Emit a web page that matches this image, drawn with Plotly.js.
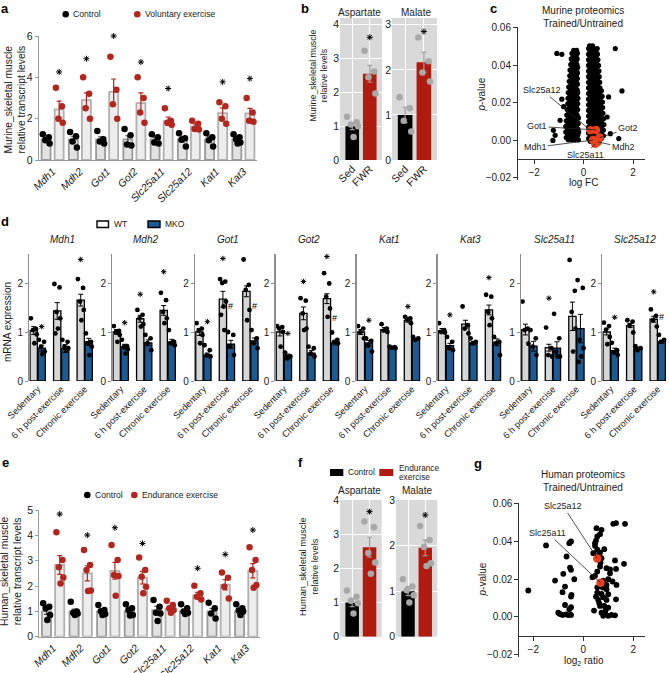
<!DOCTYPE html>
<html><head><meta charset="utf-8">
<script src="https://cdn.plot.ly/plotly-3.0.1.min.js"></script>
<style>html,body{margin:0;padding:0;background:#fff}</style>
</head><body><div id="chart" style="width:669px;height:673px"></div>
<script>
// ================= DATA =================
// Panel a (murine transcripts)
const aGenes = ['Mdh1','Mdh2','Got1','Got2','Slc25a11','Slc25a12','Kat1','Kat3'];
const aCtrlMean = [1.0,1.0,1.0,1.0,1.0,1.0,1.0,1.0];
const aCtrlSem  = [0.08,0.15,0.12,0.17,0.1,0.13,0.13,0.09];
const aCtrlDots = [[1.24,1.1,0.95,0.8],[1.35,1.15,0.9,0.6],[1.4,1.0,0.9,0.8],[1.5,1.2,0.75,0.7],[1.25,1.1,0.85,0.8],[1.3,1.05,0.98,0.65],[1.3,1.1,0.95,0.65],[1.25,1.1,1.0,0.85,0.8]];
const aExMean = [2.45,2.9,3.3,2.75,1.88,1.62,2.27,2.25];
const aExSem  = [0.4,0.35,0.62,0.5,0.2,0.12,0.25,0.25];
const aExDots = [[3.5,2.6,2.0,1.8],[4.0,3.2,2.5,2.0],[5.0,3.4,2.7,2.0],[4.0,3.0,2.3,1.8],[2.5,1.9,1.8,1.7],[1.9,1.75,1.5,1.48],[2.8,2.6,2.0,1.75],[3.0,2.3,1.9,1.85]];
const aStars = [4.26,4.9,6.0,4.74,3.46,null,3.78,3.94];

// Panel b (murine metabolites)
const bCats = ['Sed','FWR'];
const bAspMean = [1.0,2.55], bAspSem = [0.1,0.25];
const bAspDots = [[1.28,1.12,1.05,1.0,0.68],[3.23,2.62,2.45,1.97]];
const bAspStar = 3.63;
const bMalMean = [1.0,2.17], bMalSem = [0.17,0.22];
const bMalDots = [[1.39,1.15,0.87,0.63],[2.72,2.19,1.94,1.74]];
const bMalStar = 2.85;

// Panel c (murine proteomics volcano): rows of points (p-value level, log FC values)
const cLRowsY = [0.048,0.0465,0.045,0.0435,0.042,0.0405,0.039,0.0375,0.036,0.0345,0.033,0.0315,0.030,0.0285,0.027,0.0255,0.024,0.0225,0.021,0.0195,0.018,0.0165,0.015,0.0135,0.012,0.0105,0.009,0.0075,0.006,0.0045,0.003,0.0015,0.0003];
const cLRowsX = [[-0.4,-0.28],[-0.47,-0.35,-0.25],[-0.42,-0.3],[-0.5,-0.38,-0.26],[-0.44,-0.31],[-0.52,-0.4,-0.27],[-0.46,-0.33,-0.24],[-0.55,-0.42,-0.28],[-0.48,-0.35,-0.25],[-0.56,-0.43,-0.29],[-0.5,-0.37,-0.25],[-0.58,-0.45,-0.3],[-0.51,-0.38,-0.25],[-0.6,-0.46,-0.32],[-0.53,-0.4,-0.26],[-0.62,-0.48,-0.34,-0.24],[-0.55,-0.41,-0.28],[-0.63,-0.49,-0.35,-0.23],[-0.56,-0.42,-0.28],[-0.64,-0.5,-0.36,-0.24],[-0.57,-0.43,-0.29],[-0.66,-0.52,-0.38,-0.24],[-0.59,-0.45,-0.31],[-0.68,-0.54,-0.4,-0.26],[-0.61,-0.47,-0.33,-0.21],[-0.7,-0.56,-0.42,-0.28],[-0.63,-0.49,-0.35,-0.22],[-0.72,-0.58,-0.44,-0.3],[-0.65,-0.51,-0.37,-0.23],[-0.72,-0.58,-0.44,-0.3,-0.2],[-0.65,-0.51,-0.37,-0.23],[-0.7,-0.56,-0.42,-0.28],[-0.62,-0.48,-0.34,-0.21]];
const cRRowsY = [0.0505,0.049,0.0475,0.046,0.0445,0.043,0.0415,0.040,0.0385,0.037,0.0355,0.034,0.0325,0.031,0.0295,0.028,0.0265,0.025,0.0235,0.022,0.0205,0.019,0.0175,0.016,0.0145,0.013,0.0115,0.010,0.0085,0.007,0.0055,0.004,0.0025,0.001,-0.0005];
const cRRowsX = [[0.24,0.36],[0.2,0.31,0.43,0.55],[0.26,0.38,0.5],[0.2,0.32,0.44,0.56],[0.26,0.38,0.5],[0.2,0.32,0.45,0.58],[0.26,0.39,0.52],[0.2,0.33,0.46,0.6],[0.26,0.4,0.53],[0.2,0.33,0.47,0.62],[0.26,0.4,0.54],[0.2,0.34,0.48,0.63],[0.26,0.41,0.56],[0.2,0.34,0.49,0.65],[0.27,0.42,0.57],[0.2,0.35,0.5,0.66],[0.27,0.42,0.58,0.72],[0.2,0.35,0.5,0.65],[0.27,0.43,0.59,0.75],[0.2,0.35,0.51,0.67],[0.27,0.43,0.6,0.76],[0.2,0.36,0.52,0.68],[0.27,0.44,0.6,0.77],[0.2,0.36,0.52,0.69],[0.27,0.44,0.61,0.78],[0.2,0.36,0.53,0.7],[0.27,0.44,0.61,0.8],[0.2,0.37,0.54,0.71],[0.27,0.45,0.62,0.82],[0.2,0.37,0.55,0.72],[0.27,0.45,0.62,0.8],[0.2,0.37,0.55,0.72],[0.27,0.45,0.62,0.8],[0.2,0.37,0.55,0.72],[0.27,0.45,0.62]];
const cOutX = [-1.08,-0.88,1.28,1.55,1.01,0.95,-0.88,-0.95,-1.22,-1.15,-1.24,1.42,1.08,-0.81];
const cOutY = [0.0464,0.0459,0.049,0.0264,0.0232,0.0125,0.022,0.0107,0.0054,0.0027,0.0,0.001,0.0036,0.018];
const cRedNames = ['Slc25a12','Got1','Got2','Mdh1','Mdh2','Slc25a11'];
const cRedX = [0.28,0.5,0.65,0.38,0.57,0.47];
const cRedY = [0.0054,0.0056,0.0015,0.0002,-0.0008,-0.0018];

// Panel d (WT vs MKO)
const dGenes = ['Mdh1','Mdh2','Got1','Got2','Kat1','Kat3','Slc25a11','Slc25a12'];
const dConds = ['Sedentary','6 h post-exercise','Chronic exercise'];
const dWTMean = [[1.03,1.43,1.65],[1.0,1.27,1.44],[1.0,1.67,1.83],[1.0,1.38,1.68],[1.0,1.05,1.23],[1.03,1.16,1.45],[1.05,0.68,1.32],[1.0,1.13,1.26]];
const dWTSem  = [[0.08,0.17,0.12],[0.05,0.07,0.1],[0.07,0.16,0.11],[0.08,0.13,0.1],[0.05,0.04,0.03],[0.04,0.08,0.1],[0.11,0.07,0.29],[0.06,0.04,0.06]];
const dKOMean = [[0.67,0.66,0.8],[0.7,0.78,0.8],[0.53,0.75,0.82],[0.52,0.57,0.78],[0.78,0.68,0.85],[0.72,0.77,0.79],[0.71,0.67,1.07],[0.62,0.67,0.8]];
const dKOSem  = [[0.06,0.08,0.07],[0.05,0.06,0.05],[0.04,0.08,0.06],[0.03,0.05,0.04],[0.05,0.01,0.02],[0.05,0.03,0.07],[0.1,0.13,0.29],[0.05,0.02,0.03]];
const dWTDots = [
 [[1.28,1.06,1.04,0.95,0.77],[1.98,1.91,1.41,1.28,1.07,0.97],[2.08,1.9,1.62,1.45,1.24]],
 [[1.12,1.02,1.0,0.94,0.8],[1.45,1.35,1.28,1.16,1.11],[1.8,1.65,1.41,1.28,1.18]],
 [[1.18,1.07,1.04,0.94,0.77],[2.08,2.03,2.0,1.62,1.52,1.35,1.04],[2.48,1.96,1.86,1.45,1.24]],
 [[1.12,1.1,1.07,1.0,0.7],[1.69,1.64,1.38,1.07,1.04],[2.2,1.99,1.72,1.48,1.31]],
 [[1.12,1.07,0.99,0.87],[1.16,1.07,1.03,1.0],[1.31,1.28,1.26,1.18]],
 [[1.18,1.04,1.0,0.99],[1.52,1.14,1.07,0.97],[1.76,1.72,1.41,1.28,1.14]],
 [[1.62,1.07,1.04,0.76],[1.09,0.67,0.53,0.5],[2.47,1.84,1.41,1.07,0.6]],
 [[1.19,1.12,1.05,0.9,0.75],[1.24,1.21,1.14,0.99],[1.46,1.33,1.24,1.11]]];
const dKODots = [
 [[0.84,0.8,0.7,0.6,0.55],[0.84,0.8,0.7,0.67,0.63],[0.97,0.8,0.77,0.7,0.53]],
 [[0.84,0.71,0.7,0.65,0.56],[0.94,0.87,0.77,0.63],[1.04,0.8,0.77,0.73]],
 [[0.73,0.63,0.53,0.5],[1.0,0.94,0.7,0.53],[1.04,0.87,0.77,0.67]],
 [[0.58,0.5,0.46],[0.7,0.67,0.56,0.5],[0.99,0.84,0.8,0.77]],
 [[0.87,0.82,0.72,0.6],[0.7,0.69,0.68,0.67],[0.9,0.87,0.84]],
 [[0.9,0.8,0.67,0.63],[0.87,0.8,0.77],[0.9,0.8,0.77,0.53]],
 [[1.04,0.87,0.7,0.53],[1.37,0.87,0.6,0.5,0.5],[2.06,1.9,0.84,0.67,0.5,0.39]],
 [[0.78,0.63,0.58,0.53],[0.71,0.67,0.63],[0.94,0.84,0.8]]];
const dWTMark = [[null,null,2.48],[null,1.77,2.23],[null,2.5,2.83],[null,2.03,2.54],[null,null,1.52],[null,null,2.11],[null,1.69,null],[null,null,1.82]];
const dKOMark = [[1.11,null,null],[1.19,null,null],[1.21,1.53,1.53],[0.97,null,1.29],[1.24,null,null],[1.35,null,null],[null,null,null],[1.3,null,1.3]];
const dKOSym  = [['*','',''],['*','',''],['*','#','#'],['*','','#'],['*','',''],['*','',''],['','',''],['*','','#']];

// Panel e (human transcripts)
const eGenes = ['Mdh1','Mdh2','Got1','Got2','Slc25a11','Slc25a12','Kat1','Kat3'];
const eCtrlMean = [1.0,1.0,1.0,1.0,1.05,1.0,1.0,1.0];
const eCtrlSem  = [0.12,0.09,0.06,0.08,0.15,0.06,0.12,0.07];
const eCtrlDots = [[1.32,1.18,1.12,0.86,0.66],[1.38,0.99,0.95,0.92,0.86],[1.25,1.05,1.0,0.9,0.86],[1.28,1.12,1.05,0.86,0.84],[1.45,1.18,0.95,0.92,0.62],[1.28,1.12,0.99,0.95,0.9],[1.34,1.12,0.92,0.72],[1.28,1.12,1.03,0.99,0.86]];
const eExMean = [2.83,2.5,2.6,2.33,1.1,1.63,2.05,2.6];
const eExSem  = [0.37,0.3,0.33,0.25,0.08,0.12,0.2,0.28];
const eExDots = [[4.12,3.03,2.74,2.34,2.1],[3.42,2.83,2.63,1.82,1.8],[3.62,3.03,2.43,2.4,1.62],[3.13,2.63,2.37,1.97,1.71],[1.42,1.25,1.12,1.05,0.95],[2.01,1.71,1.58,1.47],[2.53,2.33,1.97,1.51],[3.53,3.03,2.63,2.04,1.93]];
const eStars = [4.84,4.01,4.3,3.68,null,2.7,3.25,4.21];

// Panel f (human metabolites)
const fAspMean = [1.0,2.62], fAspSem = [0.12,0.29];
const fAspDots = [[1.35,1.17,1.05,0.98,0.68],[3.37,3.2,2.45,2.17,1.84]];
const fAspStar = 3.66;
const fMalMean = [1.0,1.95], fMalSem = [0.1,0.17];
const fMalDots = [[1.26,1.1,1.02,0.91,0.75],[2.43,2.12,1.97,1.61,1.55]];
const fMalStar = 2.67;

// Panel g (human proteomics)
const gX = [-2.2,-1.49,-0.56,-0.49,-0.67,-0.53,-0.49,-0.36,-1.13,-0.8,-0.73,-0.83,-0.47,-0.49,-0.73,-0.49,-0.56,-1.0,-0.93,-0.83,-0.69,-0.49,-0.6,
 0.53,0.73,0.67,0.56,0.51,0.47,0.84,0.56,0.4,0.67,0.73,0.69,0.67,0.93,1.07,1.31,1.27,1.63,1.07,0.56,0.47,0.37,0.8,1.0,1.17,0.93,1.33,0.56,0.93,0.56,0.73,1.0,1.31,0.8,0.93,0.6,0.67,0.43,0.84,1.0,0.73,0.87,1.0,1.13,1.27,0.8,0.89,0.64,1.2,1.31,1.67,0.47,0.51,0.6,0.78];
const gY = [0.0139,0.0379,0.0391,0.04,0.032,0.0261,0.0249,0.0199,0.0192,0.0228,0.016,0.013,0.0116,0.0107,0.0062,0.005,0.0039,0.0021,0.0014,0.0009,0.0012,0.0009,0.0008,
 0.0471,0.0462,0.0439,0.0427,0.0405,0.0391,0.0359,0.0356,0.0338,0.0341,0.0311,0.0288,0.0267,0.0258,0.0252,0.0254,0.0299,0.0281,0.0231,0.024,0.0217,0.021,0.0192,0.0199,0.0187,0.0169,0.0169,0.0156,0.0146,0.0128,0.0121,0.0119,0.0092,0.0103,0.0089,0.0089,0.0057,0.0032,0.0057,0.0048,0.0021,0.0014,0.0004,0.0009,0.0007,0.0004,0.0032,0.0071,0.0494,0.0498,0.0494,0.0377,0.0107,0.0325,0.0155];
const gRedNames = ['Slc25a12','Slc25a11'];
const gRedX = [0.56,0.69];
const gRedY = [0.031,0.018];

// ================= DRAWING =================
const W=669,H=673;
const FONT='Arial, "Liberation Sans", Helvetica, sans-serif';
const RED_DOT='#b3261e', RED_BAR='#b01b10', GRAY_DOT='#a8a8a8', BLUE='#1b5a92', VOLC_RED='#ea3f1c';
const layout={width:W,height:H,margin:{l:0,r:0,t:0,b:0},showlegend:false,barmode:'overlay',hovermode:false,
  paper_bgcolor:'#ffffff',plot_bgcolor:'rgba(0,0,0,0)',font:{family:FONT,size:10,color:'#1a1a1a'},annotations:[],shapes:[]};
const traces=[];
let nAx=0;
function mkAxes(x0,x1,y0,y1,xo,yo){
  nAx++; const k=nAx===1?'':String(nAx);
  const base={showgrid:false,zeroline:false,showline:false,ticks:'',fixedrange:true,automargin:false};
  layout['xaxis'+k]=Object.assign({},base,{domain:[x0/W,x1/W],anchor:'y'+k},xo);
  layout['yaxis'+k]=Object.assign({},base,{domain:[1-y1/H,1-y0/H],anchor:'x'+k},yo);
  return {xa:'x'+k,ya:'y'+k};
}
function note(px,py,text,o){layout.annotations.push(Object.assign({xref:'paper',yref:'paper',x:px/W,y:1-py/H,text:text,showarrow:false,xanchor:'center',yanchor:'middle',font:{size:10,color:'#1a1a1a'}},o||{}));}
function mark(A,x,y,sym,size){
  if(y==null||!sym) return;
  if(sym==='*'){
    traces.push({type:'scatter',mode:'markers',xaxis:A.xa,yaxis:A.ya,x:[x],y:[y],cliponaxis:false,
      marker:{symbol:'asterisk-open',size:size||5,color:'#000',line:{color:'#000',width:1}}});
  } else {
    layout.annotations.push({xref:A.xa,yref:A.ya,x:x,y:y,text:sym,showarrow:false,xanchor:'center',yanchor:'middle',font:{size:9,color:'#000'}});
  }
}
const JIT=[-0.12,0.1,-0.03,0.13,0.03,-0.08,0.06];
function dots(A,xc,vals,scale,color,size){
  traces.push({type:'scatter',mode:'markers',xaxis:A.xa,yaxis:A.ya,x:vals.map((v,j)=>xc+JIT[j%JIT.length]*scale),y:vals,
    marker:{color:color,size:size,line:{width:0}},cliponaxis:false});
}
function bars(A,xs,ys,sem,width,fill,lc,lw,ec,et){
  traces.push({type:'bar',xaxis:A.xa,yaxis:A.ya,x:xs,y:ys,width:width,marker:{color:fill,line:{color:lc,width:lw}},
    error_y:{type:'data',array:sem,visible:true,color:ec,thickness:et||1,width:2.5}});
}
function rect(x0,y0,x1,y1,fill,lc,lw){layout.shapes.push({type:'rect',xref:'paper',yref:'paper',x0:x0/W,x1:x1/W,y0:1-y1/H,y1:1-y0/H,fillcolor:fill,line:{color:lc||fill,width:lw||0}});}
function circ(cx,cy,r,fill){layout.shapes.push({type:'circle',xref:'paper',yref:'paper',x0:(cx-r)/W,x1:(cx+r)/W,y0:1-(cy+r)/H,y1:1-(cy-r)/H,fillcolor:fill,line:{width:0}});}

// ---------- grouped transcript panel (a, e) ----------
function transcriptPanel(box,yr,ytv,genes,cM,cS,cD,eM,eS,eD,stars){
  const A=mkAxes(box[0],box[1],box[2],box[3],
    {range:[-0.5,7.5],tickvals:genes.map((g,i)=>i),ticktext:genes.map(g=>'<i>'+g+'</i>'),tickangle:-45,tickfont:{size:10.5},showline:true,linecolor:'#9a9a9a',linewidth:1.2},
    {range:yr,tickvals:ytv,showline:true,linecolor:'#9a9a9a',linewidth:1.2,ticks:'outside',ticklen:3,tickcolor:'#9a9a9a',tickfont:{size:10.5}});
  const xi=genes.map((g,i)=>i);
  bars(A,xi.map(i=>i-0.24),cM,cS,0.33,'#e2e2e2','#9a9a9a',1.8,'#333',1);
  bars(A,xi.map(i=>i+0.24),eM,eS,0.33,'#ededed','#b0b0b0',1.8,RED_DOT,1.2);
  genes.forEach((g,i)=>{ dots(A,i-0.24,cD[i],1,'#000',6.5); dots(A,i+0.24,eD[i],1,RED_DOT,6.5); mark(A,i+0.24,stars[i],'*',5); });
  return A;
}
transcriptPanel([39,257,36,160],[0,6],[0,2,4,6],aGenes,aCtrlMean,aCtrlSem,aCtrlDots,aExMean,aExSem,aExDots,aStars);

// ---------- metabolite panels (b, f) ----------
function metabPanel(box,yr,ytv,mean,sem,dts,star,showX){
  const A=mkAxes(box[0],box[1],box[2],box[3],
    {range:[-0.7,1.7],tickvals:[0,1],ticktext:bCats,tickangle:-45,showticklabels:showX,tickfont:{size:10.5},showgrid:true,gridcolor:'#ffffff',gridwidth:1},
    {range:yr,tickvals:ytv,showgrid:true,gridcolor:'#ffffff',gridwidth:1,tickfont:{size:10.5}});
  layout.shapes.push({type:'rect',xref:A.xa+' domain',yref:A.ya+' domain',x0:0,x1:1,y0:0,y1:1,fillcolor:'#d9d9d9',line:{width:0},layer:'below'});
  bars(A,[0],[mean[0]],[sem[0]],0.78,'#000000','#000000',0,'#9a9a9a',1.2);
  bars(A,[1],[mean[1]],[sem[1]],0.78,RED_BAR,RED_BAR,0,'#9a9a9a',1.2);
  dots(A,0,dts[0],2.5,GRAY_DOT,6.5); dots(A,1,dts[1],2.5,GRAY_DOT,6.5);
  mark(A,1,star,'*',5);
  return A;
}
metabPanel([340,382,18,160],[0,4.2],[0,1,2,3,4],bAspMean,bAspSem,bAspDots,bAspStar,true);
metabPanel([392,437,18,160],[0,3.15],[0,1,2,3],bMalMean,bMalSem,bMalDots,bMalStar,true);

// ---------- volcano panels (c, g) ----------
function volcano(box,xr,yr,xLinePy,xs,ys,rx,ry,rnames,labels,yTitlePy,xTitle,xTitlePy,msize){
  const A=mkAxes(box[0],box[1],box[2],box[3],
    {range:xr,tickvals:[-2,0,2],ticktext:['\u22122','0','2'],showline:true,linecolor:'#333',linewidth:1,ticks:'outside',ticklen:4,tickcolor:'#333',anchor:'free',position:1-xLinePy/H,tickfont:{size:10}},
    {range:yr,tickvals:[-0.02,0,0.02,0.04,0.06],ticktext:['\u22120.02','0.00','0.02','0.04','0.06'],showline:true,linecolor:'#333',linewidth:1,ticks:'outside',ticklen:4,tickcolor:'#333',tickfont:{size:10}});
  traces.push({type:'scatter',mode:'markers',xaxis:A.xa,yaxis:A.ya,x:xs,y:ys,marker:{color:'#000',size:msize,line:{width:0}},cliponaxis:false});
  traces.push({type:'scatter',mode:'markers',xaxis:A.xa,yaxis:A.ya,x:rx,y:ry,marker:{color:VOLC_RED,size:8.5,line:{width:0}},cliponaxis:false});
  rnames.forEach((n,i)=>{ const L=labels[i];
    layout.annotations.push({xref:A.xa,yref:A.ya,x:rx[i],y:ry[i],axref:A.xa,ayref:A.ya,ax:L[0],ay:L[1],text:n,showarrow:true,arrowhead:0,arrowwidth:0.8,arrowcolor:'#222',standoff:0,startstandoff:0,font:{size:9,color:'#222'}}); });
  note(481.5,yTitlePy,'<i>p</i>-value',{textangle:-90,font:{size:10}});
  note((box[0]+box[1])/2+2,xTitlePy,xTitle,{font:{size:10}});
  return A;
}
const cX=[],cY=[];
cLRowsY.forEach((y,i)=>cLRowsX[i].forEach(x=>{cX.push(x);cY.push(y);}));
cRRowsY.forEach((y,i)=>cRRowsX[i].forEach(x=>{cX.push(x);cY.push(y);}));
cOutX.forEach((x,i)=>{cX.push(x);cY.push(cOutY[i]);});
volcano([518,645,27,180],[-2.65,2.48],[-0.0211,0.0605],159,cX,cY,cRedX,cRedY,cRedNames,
  [[-1.68,0.0268],[-1.88,0.0075],[1.8,0.0064],[-1.96,-0.0037],[1.6,-0.0037],[0.06,-0.0076]],95,'log FC',183,5.2);
note(583,16.5,'Murine proteomics<br>Trained/Untrained',{font:{size:10}});

// ---------- panel d ----------
const dBase=[29.3,112.3,195,275.5,356.5,437.5,521,602.3];
dGenes.forEach((g,gi)=>{
  const bx=dBase[gi];
  const A=mkAxes(bx,bx+66,253.6,381,
    {range:[-0.357,2.45],tickvals:[0,1,2],ticktext:dConds,tickangle:-45,tickfont:{size:9.2}},
    {range:[0,2.6],tickvals:[0,1,2],showline:true,linecolor:'#8f8f8f',linewidth:1.2,ticks:'outside',ticklen:3,tickcolor:'#8f8f8f',tickfont:{size:10}});
  bars(A,[-0.17,0.83,1.83],dWTMean[gi],dWTSem[gi],0.31,'#d6d6d6','#000',1.3,'#000',1);
  bars(A,[0.17,1.17,2.17],dKOMean[gi],dKOSem[gi],0.31,BLUE,'#000',1.3,'#000',1);
  [0,1,2].forEach(c=>{
    dots(A,c-0.17,dWTDots[gi][c],1,'#000',4.8);
    dots(A,c+0.17,dKODots[gi][c],1,'#000',4.8);
    mark(A,c-0.17,dWTMark[gi][c],'*',4.5);
    mark(A,c+0.17,dKOMark[gi][c],dKOSym[gi][c],4.5);
  });
  note(bx+33,239,'<i>'+g+'</i>',{font:{size:10}});
});
note(7,322,'mRNA expression',{textangle:-90,font:{size:10}});
rect(97,221,108.5,227.5,'#ffffff','#000',1.4);
note(111.5,224.5,'WT',{xanchor:'left',font:{size:8.5}});
rect(148,221,160,227.5,BLUE,'#000',1.4);
note(162.5,224.5,'MKO',{xanchor:'left',font:{size:8.5}});

// ---------- panel e ----------
transcriptPanel([39.3,260,510,636.7],[0,5],[0,1,2,3,4,5],eGenes,eCtrlMean,eCtrlSem,eCtrlDots,eExMean,eExSem,eExDots,eStars);

// ---------- panel f ----------
metabPanel([340,381.7,500,636.7],[0,4],[0,1,2,3,4],fAspMean,fAspSem,fAspDots,fAspStar,false);
metabPanel([396,437.3,500,636.7],[0,3],[0,1,2,3],fMalMean,fMalSem,fMalDots,fMalStar,false);

// ---------- panel g ----------
volcano([519.3,645,503,657],[-2.56,2.47],[-0.0215,0.0605],635.7,gX,gY,gRedX,gRedY,gRedNames,
  [[-0.8,0.0587],[-1.42,0.0445]],580,'log<sub>2</sub> ratio',661,5.8);
note(583.3,481,'Human proteomics<br>Trained/Untrained',{font:{size:10}});

// ---------- titles, legends, y titles, letters ----------
note(14.5,100,'Murine_skeletal muscle<br>relative transcript levels',{textangle:-90,font:{size:10.3}});
note(317.5,76,'Murine_skeletal muscle<br>relative levels',{textangle:-90,font:{size:8.8}});
note(11,571,'Human_skeletal muscle<br>relative transcript levels',{textangle:-90,font:{size:10.3}});
note(309,567,'Human_skeletal muscle<br>relative levels',{textangle:-90,font:{size:9.3}});
note(359.3,12.7,'Aspartate',{font:{size:10}});
note(416,12.7,'Malate',{font:{size:10}});
note(359.3,490.7,'Aspartate',{font:{size:10}});
note(416.7,490.7,'Malate',{font:{size:10}});
circ(65.7,14.3,3.3,'#000'); note(71,14.3,'Control',{xanchor:'left',font:{size:8.6}});
circ(137.3,14.3,3.3,RED_DOT); note(142.8,14.3,'Voluntary exercise',{xanchor:'left',font:{size:8.6}});
circ(87.3,495,3.3,'#000'); note(92.5,495,'Control',{xanchor:'left',font:{size:8.6}});
circ(134.3,495,3.3,RED_DOT); note(139.5,495,'Endurance exercise',{xanchor:'left',font:{size:8.6}});
rect(330,469,343.3,476,'#000');
note(346,472.5,'Control',{xanchor:'left',font:{size:8.3}});
rect(379.3,469,393.3,476,RED_BAR);
note(396.5,468.3,'Endurance',{xanchor:'left',font:{size:8.3}});
note(396.5,476.8,'exercise',{xanchor:'left',font:{size:8.3}});
[['a',5,9],['b',305,9],['c',493,9],['d',5,222],['e',5,462],['f',300,462],['g',478,463]].forEach(L=>note(L[1],L[2],'<b>'+L[0]+'</b>',{font:{size:13,color:'#000'}}));

Plotly.newPlot('chart',traces,layout,{staticPlot:true,displayModeBar:false});
</script></body></html>
